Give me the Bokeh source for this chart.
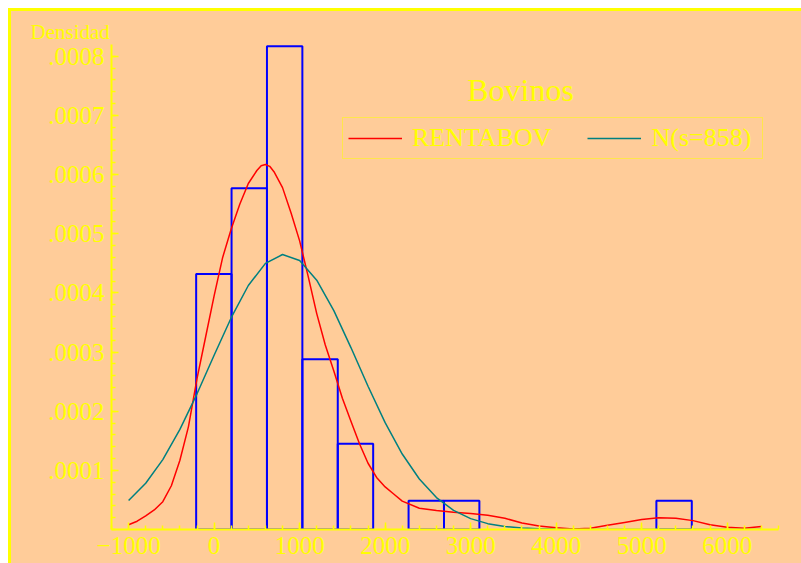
from bokeh.plotting import figure
from bokeh.models import (FixedTicker, CustomJSTickFormatter, Label, Legend,
                          LegendItem, Range1d, ColumnDataSource, Title)
from bokeh.embed import file_html
from bokeh.resources import INLINE

# ---- data ----
bin_left = [-210, 204, 618, 1032, 1446, 2274, 2688, 5172]
bin_right = [204, 618, 1032, 1446, 1860, 2688, 3102, 5586]
bin_density = [0.000432, 0.000577, 0.000817, 0.000288, 0.000145,
               0.0000485, 0.0000485, 0.0000485]

kde_x = [-1000, -900, -800, -700, -600, -500, -400, -300, -200, -100, 0,
         100, 200, 300, 400, 500, 550, 600, 650, 700, 800, 900, 1000, 1100,
         1200, 1300, 1400, 1500, 1600, 1700, 1800, 1900, 2000, 2100, 2200,
         2400, 2600, 2800, 3000, 3200, 3400, 3600, 3800, 4000, 4200, 4400,
         4600, 4800, 5000, 5200, 5400, 5600, 5800, 6000, 6200, 6400]
kde_y = [0.000008, 0.000014, 0.000023, 0.000033, 0.000047, 0.000074,
         0.000117, 0.000174, 0.000255, 0.000325, 0.000395, 0.000460,
         0.000508, 0.000550, 0.000585, 0.000607, 0.000615, 0.000617,
         0.000614, 0.000605, 0.000578, 0.000535, 0.000488, 0.000428,
         0.000365, 0.000312, 0.000268, 0.000222, 0.000183, 0.000145,
         0.000112, 0.000088, 0.000072, 0.000060, 0.000048, 0.000036,
         0.000032, 0.000029, 0.000027, 0.000024, 0.000019, 0.000011,
         0.000006, 0.000003, 0.000001, 0.000002, 0.000007, 0.000012,
         0.000017, 0.000020, 0.000019, 0.000015, 0.000008, 0.000004,
         0.000002, 0.000005]

norm_x = [-1000, -800, -600, -400, -200, 0, 200, 400, 600, 800, 1000, 1200,
          1400, 1600, 1800, 2000, 2200, 2400, 2600, 2800, 3000, 3200, 3400,
          3600, 3800, 4000, 4200, 4400, 4600, 4800, 5000, 5200, 5400, 5600,
          5800, 6000, 6200, 6400]
norm_y = [0.0000490, 0.0000783, 0.0001182, 0.0001692, 0.0002294, 0.0002945,
          0.0003581, 0.0004125, 0.0004500, 0.0004649, 0.0004549, 0.0004216,
          0.0003700, 0.0003076, 0.0002422, 0.0001806, 0.0001276, 0.0000853,
          0.0000540, 0.0000324, 0.0000184, 0.0000099, 0.0000051, 0.0000024,
          0.0000011, 0.0000005, 0.0000002, 0.0000001, 0, 0, 0, 0, 0, 0, 0,
          0, 0, 0]

x_ticks = [-1000, 0, 1000, 2000, 3000, 4000, 5000, 6000]
y_ticks = [0.0001, 0.0002, 0.0003, 0.0004, 0.0005, 0.0006, 0.0007, 0.0008]

series_names = ["RENTABOV", "N(s=858)"]
title_text = "Bovinos"
ylabel_text = "Densidad"

# ---- styling ----
BG = "#FFCC99"
YEL = "#FFFF00"
FONT = "Liberation Serif"

p = figure(width=793, height=555,
           x_range=Range1d(-1200, 6600), y_range=Range1d(0, 0.00082),
           output_backend="svg", toolbar_location=None,
           min_border_left=103, min_border_right=23,
           min_border_top=36, min_border_bottom=34)
p.background_fill_color = None
p.border_fill_color = None
p.outline_line_color = None
p.styles = {"background-color": BG,
            "margin-left": "8px", "margin-top": "8px",
            "box-shadow": "inset 3px 3px 0 0 " + YEL}
p.xgrid.visible = False
p.ygrid.visible = False

src_bins = ColumnDataSource(dict(left=bin_left, right=bin_right,
                                 top=bin_density,
                                 bottom=[0] * len(bin_left)))
p.quad(left="left", right="right", top="top", bottom="bottom",
       source=src_bins, fill_alpha=0, line_color="#0000FF", line_width=2)

r_kde = p.line(kde_x, kde_y, line_color="#FF0000", line_width=1.5)
r_norm = p.line(norm_x, norm_y, line_color="#008080", line_width=1.5)

x_minor = [-1200 + 200 * i for i in range(40)]
y_minor = [0.00002 * i for i in range(42)]
p.xaxis.ticker = FixedTicker(ticks=x_ticks, minor_ticks=x_minor)
p.yaxis.ticker = FixedTicker(ticks=y_ticks, minor_ticks=y_minor)
p.yaxis.formatter = CustomJSTickFormatter(
    code="return tick.toFixed(4).replace(/^0/, '');")

for ax in (p.xaxis[0], p.yaxis[0]):
    ax.axis_line_color = YEL
    ax.axis_line_width = 2
    ax.major_tick_line_color = YEL
    ax.minor_tick_line_color = YEL
    ax.major_tick_line_width = 1.5
    ax.minor_tick_line_width = 1.5
    ax.major_tick_in = 7
    ax.major_tick_out = 0
    ax.minor_tick_in = 4
    ax.minor_tick_out = 0
    ax.major_label_text_color = YEL
    ax.major_label_text_font = FONT
    ax.major_label_text_font_size = "25px"
    ax.major_label_standoff = 7

p.add_layout(Title(text=ylabel_text, align="left", offset=-81,
                   text_font=FONT, text_font_size="21px",
                   text_font_style="normal", text_color=YEL,
                   standoff=2), "above")
p.add_layout(Label(x=409, y=440, x_units="screen", y_units="screen",
                   text=title_text, text_font=FONT, text_font_size="32px",
                   text_color=YEL, text_align="center",
                   text_baseline="alphabetic"))

legend = Legend(items=[LegendItem(label=series_names[0], renderers=[r_kde]),
                       LegendItem(label=series_names[1], renderers=[r_norm])],
                orientation="horizontal", location=(231, 370),
                border_line_color=YEL, border_line_width=1,
                background_fill_alpha=0,
                label_text_font=FONT, label_text_font_size="26px",
                label_text_color=YEL, glyph_width=54, glyph_height=20,
                label_standoff=10, label_width=106, spacing=36,
                padding=5, margin=0)
p.add_layout(legend)

open("out.html", "w").write(file_html(p, INLINE))
